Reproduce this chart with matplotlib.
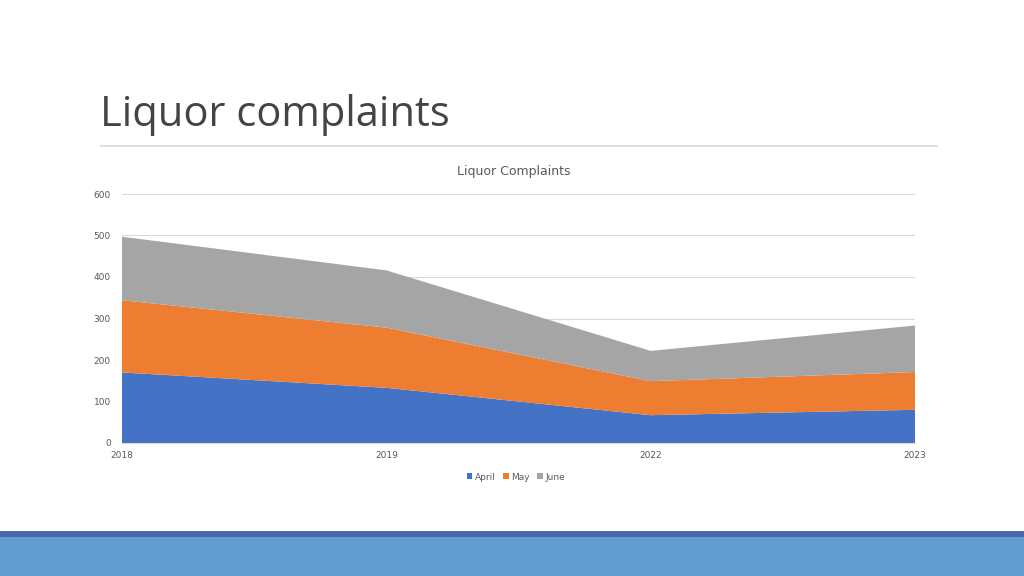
import numpy as np
import matplotlib.pyplot as plt
from matplotlib.patches import Rectangle
from matplotlib.lines import Line2D

# Data
years = ["2018", "2019", "2022", "2023"]
april = [170, 133, 67, 80]
may = [174, 145, 82, 91]
june = [153, 138, 73, 112]

colors = ["#4472C4", "#ED7D31", "#A5A5A5"]
W, H = 1024, 576

fig = plt.figure(figsize=(10.24, 5.76), dpi=100)
fig.patch.set_facecolor("white")

# Slide title and rule
fig.text(100 / W, 1 - 115 / H, "Liquor complaints", fontsize=30, family="Open Sans",
         color="#444444", va="center", ha="left")
fig.add_artist(Line2D([101 / W, 937 / W], [1 - 146 / H, 1 - 146 / H],
                      color="#d9d9d9", lw=1.2))

# Bottom band
fig.add_artist(Rectangle((0, 0), 1, 1 - 537 / H, transform=fig.transFigure,
                         color="#629DD1", lw=0))
fig.add_artist(Rectangle((0, 1 - 537 / H), 1, 6 / H, transform=fig.transFigure,
                         color="#4A66AC", lw=0))

# Chart
ax = fig.add_axes([122 / W, 1 - 443 / H, (915 - 122) / W, (443 - 194) / H])
x = np.arange(len(years))
ax.stackplot(x, april, may, june, colors=colors, labels=["April", "May", "June"],
             linewidth=0)
ax.set_xlim(0, len(years) - 1)
ax.set_ylim(0, 600)
ax.set_xticks(x)
ax.set_xticklabels(years)
ax.set_yticks(range(0, 601, 100))
ax.tick_params(axis="both", length=0, labelsize=6.5, labelcolor="#595959")
ax.tick_params(axis="x", pad=6)
ax.tick_params(axis="y", pad=8)
ax.grid(axis="y", color="#d9d9d9", lw=0.8)
ax.set_axisbelow(True)
for s in ["top", "right", "left"]:
    ax.spines[s].set_visible(False)
ax.spines["bottom"].set_color("#d9d9d9")

fig.text(514 / W, 1 - 172 / H, "Liquor Complaints", fontsize=9,
         color="#595959", ha="center", va="center")

leg = fig.legend(loc="center", bbox_to_anchor=(516 / W, 1 - 477 / H), ncol=3,
                 frameon=False, fontsize=6.5, handlelength=0.6, handleheight=0.6,
                 handletextpad=0.3, columnspacing=0.8)
for t in leg.get_texts():
    t.set_color("#595959")

fig.savefig("out.png", dpi=100)
